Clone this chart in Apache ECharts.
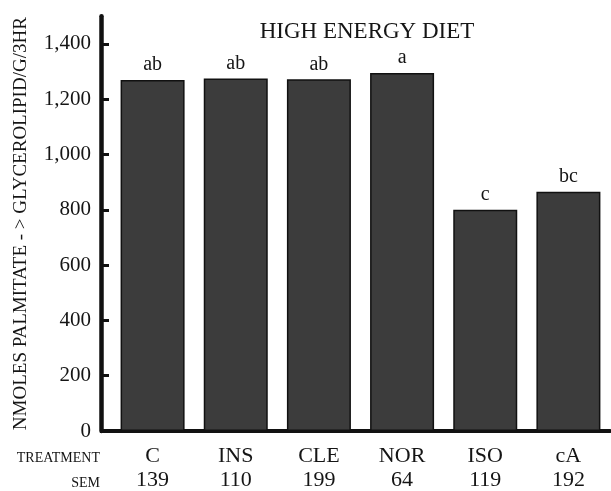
<!DOCTYPE html>
<html>
<head>
<meta charset="utf-8">
<script src="https://cdn.jsdelivr.net/npm/echarts@6/dist/echarts.min.js"></script>
<style>html,body{margin:0;padding:0;background:#fff;}#c{width:611px;height:491px;}</style>
</head>
<body>
<div id="c"></div>
<script>
var categories = ['C', 'INS', 'CLE', 'NOR', 'ISO', 'cA'];
var values = [1270, 1275, 1272, 1295, 800, 865];
var letters = ['ab', 'ab', 'ab', 'a', 'c', 'bc'];
var sem = ['139', '110', '199', '64', '119', '192'];
var yTicks = [0, 200, 400, 600, 800, 1000, 1200, 1400];

var F = 'Liberation Serif, Times New Roman, serif';
var chart = echarts.init(document.getElementById('c'));
chart.setOption({
  animation: false,
  backgroundColor: '#fff',
  title: {
    text: 'HIGH ENERGY DIET',
    left: 362, top: 15, textAlign: 'center',
    textStyle: { fontFamily: F, fontSize: 23, fontWeight: 'normal', color: '#151515' }
  },
  grid: { left: 111, right: 1, top: 16.3, bottom: 60 },
  xAxis: {
    type: 'category',
    data: categories,
    axisLine: { lineStyle: { color: '#111', width: 4 }, symbol: ['rect', 'none'], symbolSize: [4, 22] },
    axisTick: { show: false },
    axisLabel: {
      margin: 13,
      formatter: function (v, i) { return '{a|' + v + '}\n{b|' + sem[i] + '}'; },
      rich: {
        a: { fontFamily: F, fontSize: 22, color: '#151515', lineHeight: 24 },
        b: { fontFamily: F, fontSize: 22, color: '#151515', lineHeight: 24 }
      }
    }
  },
  yAxis: {
    type: 'value',
    min: 0, max: 1500,
    offset: 10,
    splitLine: { show: false },
    axisLine: { show: true, lineStyle: { color: '#111', width: 4.5 } },
    axisTick: { show: true, inside: true, length: 8, lineStyle: { color: '#111', width: 3 }, customValues: yTicks },
    axisLabel: {
      margin: 10,
      customValues: yTicks,
      fontFamily: F, fontSize: 21, color: '#151515',
      formatter: function (v) { return v.toLocaleString('en-US'); }
    },
    name: 'NMOLES PALMITATE - > GLYCEROLIPID/G/3HR',
    nameLocation: 'middle',
    nameGap: 70,
    nameRotate: 90,
    nameTextStyle: { fontFamily: F, fontSize: 19, color: '#151515' }
  },
  graphic: [
    { type: 'text', right: 611 - 100, top: 451, style: { text: 'TREATMENT', font: '14px ' + F, fill: '#151515', textAlign: 'right' } },
    { type: 'text', right: 611 - 100, top: 476, style: { text: 'SEM', font: '14px ' + F, fill: '#151515', textAlign: 'right' } }
  ],
  series: [{
    type: 'bar',
    data: values,
    barWidth: 64,
    itemStyle: { color: '#3c3c3c', borderColor: '#111', borderWidth: 1.5 },
    label: {
      show: true, position: 'top', distance: 5,
      fontFamily: F, fontSize: 20, color: '#151515',
      formatter: function (p) { return letters[p.dataIndex]; }
    }
  }]
});
</script>
</body>
</html>
